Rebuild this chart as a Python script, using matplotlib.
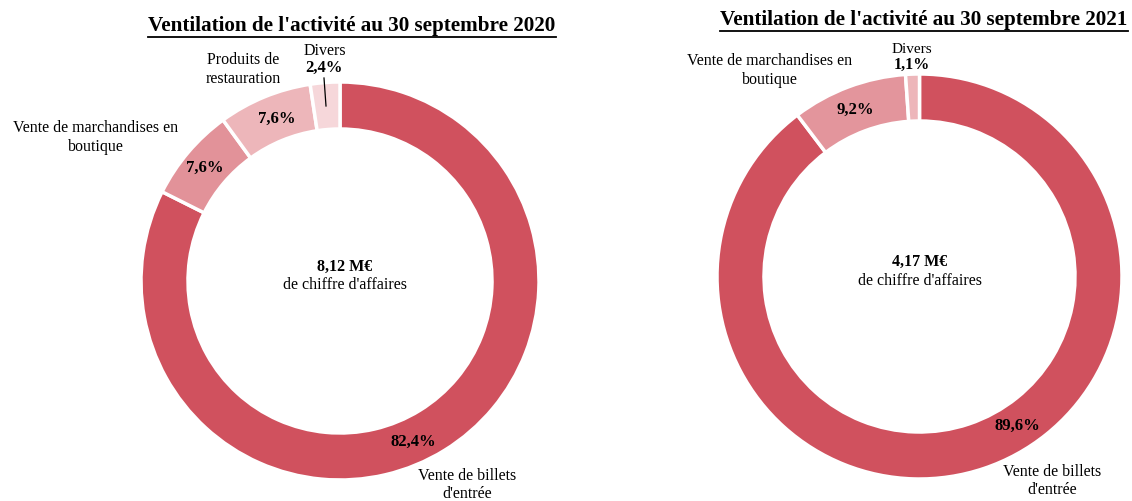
import numpy as np
import matplotlib
matplotlib.use("Agg")
import matplotlib.pyplot as plt

plt.rcParams['font.family'] = ['Liberation Serif', 'DejaVu Serif']

# data
cats_2020 = ["Vente de billets\nd'entrée", "Vente de marchandises en\nboutique",
             "Produits de\nrestauration", "Divers"]
vals_2020 = [82.4, 7.6, 7.6, 2.4]
cols_2020 = ["#D0515E", "#E29299", "#EDB6BA", "#F6D7DA"]
total_2020 = "8,12 M€"

cats_2021 = ["Vente de billets\nd'entrée", "Vente de marchandises en\nboutique", "Divers"]
vals_2021 = [89.6, 9.2, 1.1]
cols_2021 = ["#D0515E", "#E3959C", "#EDB6BA"]
total_2021 = "4,17 M€"

W, H = 1132, 501
fig = plt.figure(figsize=(W / 100, H / 100), dpi=100)
ax = fig.add_axes([0, 0, 1, 1])
ax.set_xlim(0, W)
ax.set_ylim(0, H)
ax.set_aspect('equal')
ax.axis('off')


def fmt(v):
    return f"{v:.1f}".replace('.', ',') + "%"


def donut(center, radius, vals, cols):
    ax.pie(vals, colors=cols, startangle=90, counterclock=False,
           center=center, radius=radius, frame=True,
           wedgeprops=dict(width=47, edgecolor='white', linewidth=2.5))


# y given in image pixels (top down) -> flip
def txt(x, y, s, **kw):
    kw.setdefault('fontsize', 11.5)
    ax.text(x, H - y, s, ha='center', va='center', **kw)


def title(x, y, s):
    t = ax.text(x, H - y, s, ha='center', va='center', fontsize=15.2, fontweight='bold')
    fig.canvas.draw()
    bb = t.get_window_extent().transformed(ax.transData.inverted())
    ax.plot([bb.x0, bb.x1], [bb.y0 - 1, bb.y0 - 1], color='black', lw=1.3)


# 2020
donut((340, H - 281), 199, vals_2020, cols_2020)
title(352, 26, "Ventilation de l'activité au 30 septembre 2020")
txt(345, 267, total_2020, fontweight='bold')
txt(345, 285, "de chiffre d'affaires")
txt(413, 442, fmt(vals_2020[0]), fontweight='bold', fontsize=12)
txt(205, 168, fmt(vals_2020[1]), fontweight='bold', fontsize=12)
txt(277, 119, fmt(vals_2020[2]), fontweight='bold', fontsize=12)
txt(324, 68, fmt(vals_2020[3]), fontweight='bold', fontsize=12)
ax.plot([324, 326], [H - 78, H - 106], color='black', lw=0.9)
txt(467, 485, cats_2020[0], linespacing=1.25)
txt(96, 137, cats_2020[1], linespacing=1.25)
txt(243, 69, cats_2020[2], linespacing=1.25)
txt(325, 51, cats_2020[3])

# 2021
donut((919.5, H - 276.5), 202.5, vals_2021, cols_2021)
title(924, 20, "Ventilation de l'activité au 30 septembre 2021")
txt(920, 262, total_2021, fontweight='bold')
txt(920, 281, "de chiffre d'affaires")
txt(1017, 426, fmt(vals_2021[0]), fontweight='bold', fontsize=12)
txt(855, 110, fmt(vals_2021[1]), fontweight='bold', fontsize=12)
txt(912, 65, fmt(vals_2021[2]), fontweight='bold', fontsize=11.5)
txt(1052, 481, cats_2021[0], linespacing=1.25)
txt(770, 70, cats_2021[1], linespacing=1.25)
txt(912, 49, cats_2021[2], fontsize=11)

ax.set_xlim(0, W)
ax.set_ylim(0, H)
fig.savefig("out.png", dpi=100)
